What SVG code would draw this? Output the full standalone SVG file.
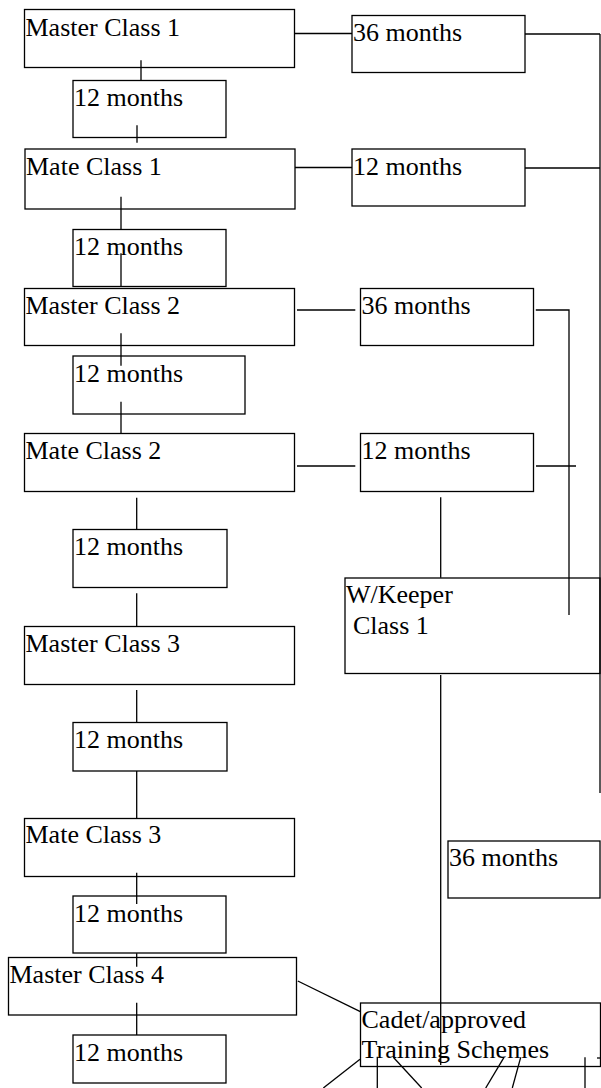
<svg xmlns="http://www.w3.org/2000/svg" width="601" height="1088" viewBox="0 0 601 1088">
<style>
.box{fill:#fff;stroke:#000;stroke-width:1.3}
.t{font-family:"Liberation Serif","Times New Roman",serif;font-size:26px;fill:#000}
.c line,.c polyline{stroke:#000;stroke-width:1.3;fill:none}
</style>
<rect width="601" height="1088" fill="#fff"/>
<g id="n-mc1"><rect class="box" x="24.5" y="9.5" width="270" height="58"/><text class="t" x="25.5" y="36">Master Class 1</text></g>
<g id="n-m36a"><rect class="box" x="352" y="15.5" width="173" height="57"/><text class="t" x="353" y="41">36 months</text></g>
<g id="n-m12a"><rect class="box" x="73" y="80.5" width="153" height="57"/><text class="t" x="74" y="106">12 months</text></g>
<g id="n-mate1"><rect class="box" x="25" y="149" width="270" height="60"/><text class="t" x="26" y="175">Mate Class 1</text></g>
<g id="n-m12b"><rect class="box" x="352" y="149" width="173" height="57"/><text class="t" x="353" y="175">12 months</text></g>
<g id="n-m12c"><rect class="box" x="73" y="229.5" width="153" height="57"/><text class="t" x="74" y="255">12 months</text></g>
<g id="n-mc2"><rect class="box" x="24.5" y="288.5" width="270" height="57"/><text class="t" x="25.5" y="314">Master Class 2</text></g>
<g id="n-m36b"><rect class="box" x="360.5" y="288.5" width="173" height="57"/><text class="t" x="361.5" y="314">36 months</text></g>
<g id="n-m12d"><rect class="box" x="73" y="356" width="172" height="58"/><text class="t" x="74" y="382">12 months</text></g>
<g id="n-mate2"><rect class="box" x="24.5" y="433.5" width="270" height="58"/><text class="t" x="25.5" y="459">Mate Class 2</text></g>
<g id="n-m12e"><rect class="box" x="360.5" y="433.5" width="173" height="58"/><text class="t" x="361.5" y="459">12 months</text></g>
<g id="n-m12f"><rect class="box" x="73" y="529.5" width="154" height="58"/><text class="t" x="74" y="555">12 months</text></g>
<g id="n-mc3"><rect class="box" x="24.5" y="626.5" width="270" height="58"/><text class="t" x="25.5" y="652">Master Class 3</text></g>
<g id="n-m12g"><rect class="box" x="73" y="722.5" width="154" height="48.5"/><text class="t" x="74" y="748">12 months</text></g>
<g id="n-mate3"><rect class="box" x="24.5" y="818.5" width="270" height="58"/><text class="t" x="25.5" y="843">Mate Class 3</text></g>
<g id="n-m12h"><rect class="box" x="73" y="896" width="153" height="57"/><text class="t" x="74" y="922">12 months</text></g>
<g id="n-mc4"><rect class="box" x="8.5" y="957.5" width="288" height="57.5"/><text class="t" x="9.5" y="983">Master Class 4</text></g>
<g id="n-m12i"><rect class="box" x="73" y="1035" width="153" height="48"/><text class="t" x="74" y="1061">12 months</text></g>
<g id="n-wk"><rect class="box" x="345" y="578" width="255" height="95.5"/><text class="t" x="346" y="603">W/Keeper</text><text class="t" x="353" y="634">Class 1</text></g>
<g id="n-m36c"><rect class="box" x="448" y="841" width="152" height="57"/><text class="t" x="449" y="866">36 months</text></g>
<g id="connectors" class="c">
<line x1="294.5" y1="33.5" x2="352" y2="33.5"/>
<line x1="525" y1="34" x2="600" y2="34"/>
<line x1="600" y1="34" x2="600" y2="793" stroke-width="1"/>
<line x1="295" y1="167.5" x2="352" y2="167.5"/>
<line x1="525" y1="168" x2="600" y2="168"/>
<line x1="141" y1="60.3" x2="141" y2="80.3"/>
<line x1="137" y1="125.3" x2="137" y2="142.7"/>
<line x1="121" y1="196.7" x2="121" y2="229.3"/>
<line x1="121" y1="253.3" x2="121" y2="286.7"/>
<line x1="297" y1="310" x2="355.3" y2="310"/>
<polyline points="535.8,310 569,310 569,615"/>
<line x1="121" y1="333.3" x2="121" y2="365.7"/>
<line x1="121" y1="401.7" x2="121" y2="433.3"/>
<line x1="297" y1="466" x2="355.3" y2="466"/>
<line x1="536" y1="466" x2="576" y2="466"/>
<line x1="440.7" y1="497.3" x2="440.7" y2="577.7"/>
<line x1="136.7" y1="497.7" x2="136.7" y2="529.3"/>
<line x1="136.7" y1="593.3" x2="136.7" y2="626"/>
<line x1="136.7" y1="690" x2="136.7" y2="722.7"/>
<line x1="136.7" y1="771" x2="136.7" y2="818.3"/>
<line x1="136.7" y1="872.7" x2="136.7" y2="904"/>
<line x1="136.7" y1="953.3" x2="136.7" y2="966.7"/>
<line x1="136.7" y1="1002.7" x2="136.7" y2="1035"/>
<line x1="297.8" y1="981" x2="360.3" y2="1011.7"/>
</g>
<g id="n-cadet"><rect class="box" x="360.5" y="1003" width="240" height="63.5"/><text class="t" x="361.5" y="1028">Cadet/approved</text><text class="t" x="361.5" y="1058">Training Schemes</text></g>
<g id="connectors2" class="c">
<line x1="440.7" y1="675" x2="440.7" y2="1065"/>
<line x1="360" y1="1059.3" x2="323.3" y2="1088"/>
<line x1="377.3" y1="1056.7" x2="377.3" y2="1088"/>
<line x1="393.3" y1="1057.3" x2="421.7" y2="1088"/>
<line x1="504" y1="1057.3" x2="485.7" y2="1088"/>
<line x1="520.7" y1="1057.3" x2="512.3" y2="1088"/>
<line x1="585" y1="1057.3" x2="585" y2="1088"/>
<line x1="597" y1="1058" x2="601" y2="1058"/>
</g>
</svg>
